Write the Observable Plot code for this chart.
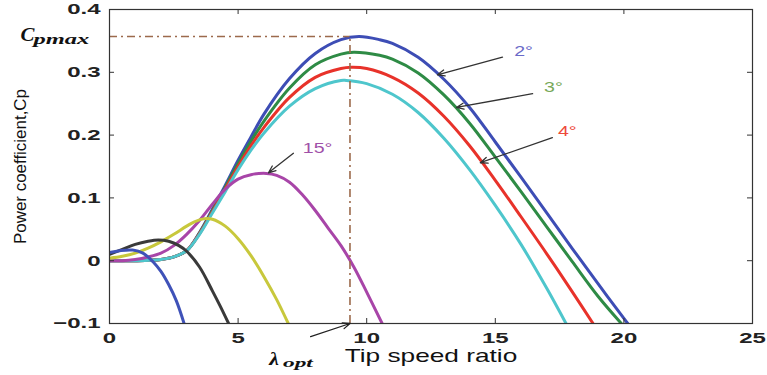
<!DOCTYPE html>
<html><head><meta charset="utf-8">
<script src="https://cdn.jsdelivr.net/npm/d3@7"></script>
<script src="https://cdn.jsdelivr.net/npm/@observablehq/plot@0.6"></script>
<style>body{margin:0;background:#fff}svg{display:block}</style>
</head><body><div id="chart"></div>
<script>
// ---- data ----
const seriesNames = ["2°", "3°", "4°", "5°", "15°", "20°", "25°", "30°"];
const seriesColors = ["#3d4db5", "#2e8b45", "#e8322a", "#4ec6cc", "#a845a8", "#c8c83c", "#3a3a3a", "#3f52b8"];

const lam2 = [0, 1, 2, 2.5, 3, 3.5, 4, 4.5, 5, 5.5, 6, 7, 8, 9, 9.7, 10.5, 11, 12, 13, 14, 15, 16, 17, 18, 19, 20, 20.15];
const cp2  = [0, 0, 0.002, 0.006, 0.016, 0.045, 0.082, 0.12, 0.16, 0.197, 0.233, 0.29, 0.33, 0.352, 0.357, 0.352, 0.346, 0.324, 0.289, 0.244, 0.189, 0.133, 0.076, 0.019, -0.037, -0.092, -0.1];

const lam3 = [0, 1, 2, 2.5, 3, 3.5, 4, 4.5, 5, 5.5, 6, 7, 8, 9, 9.5, 10.5, 11, 12, 13, 14, 15, 16, 17, 18, 19, 19.9];
const cp3  = [0, 0, 0.002, 0.006, 0.016, 0.044, 0.08, 0.117, 0.155, 0.19, 0.222, 0.275, 0.312, 0.329, 0.332, 0.327, 0.321, 0.299, 0.264, 0.219, 0.165, 0.11, 0.054, -0.002, -0.057, -0.1];

const lam4 = [0, 1, 2, 2.5, 3, 3.5, 4, 4.5, 5, 5.5, 6, 7, 8, 9, 9.4, 10, 11, 12, 13, 14, 15, 16, 17, 18, 18.8];
const cp4  = [0, 0, 0.002, 0.006, 0.016, 0.043, 0.078, 0.114, 0.15, 0.183, 0.212, 0.26, 0.292, 0.306, 0.308, 0.306, 0.292, 0.267, 0.23, 0.183, 0.128, 0.07, 0.011, -0.05, -0.1];

const lam5 = [0, 1, 2, 2.5, 3, 3.5, 4, 4.5, 5, 5.5, 6, 7, 8, 9, 9.2, 10, 11, 12, 13, 14, 15, 16, 17, 17.75];
const cp5  = [0, 0, 0.002, 0.006, 0.016, 0.042, 0.076, 0.11, 0.145, 0.176, 0.203, 0.246, 0.274, 0.287, 0.287, 0.282, 0.265, 0.236, 0.195, 0.145, 0.088, 0.026, -0.044, -0.1];

const lam15 = [0, 0.5, 1, 1.5, 2, 2.5, 3, 3.5, 4, 4.5, 5, 5.5, 6.1, 6.5, 7, 7.5, 8, 8.5, 9, 9.5, 10, 10.6];
const cp15  = [0, 0, 0.002, 0.006, 0.012, 0.024, 0.042, 0.064, 0.09, 0.114, 0.13, 0.137, 0.139, 0.136, 0.125, 0.105, 0.08, 0.052, 0.024, -0.01, -0.05, -0.1];

const lam20 = [0, 0.5, 1, 1.5, 2, 2.5, 3, 3.3, 3.7, 4, 4.5, 5, 5.5, 6, 6.5, 6.95];
const cp20  = [0.004, 0.007, 0.012, 0.02, 0.03, 0.042, 0.055, 0.062, 0.067, 0.066, 0.055, 0.035, 0.008, -0.025, -0.062, -0.1];

const lam25 = [0, 0.5, 1, 1.5, 1.9, 2.3, 2.7, 3, 3.5, 4, 4.3, 4.63];
const cp25  = [0.01, 0.018, 0.026, 0.031, 0.033, 0.031, 0.024, 0.015, -0.01, -0.048, -0.072, -0.1];

const lam30 = [0, 0.4, 0.9, 1.3, 1.7, 2, 2.3, 2.6, 2.9];
const cp30  = [0.013, 0.016, 0.017, 0.012, -0.002, -0.017, -0.038, -0.064, -0.1];

const xTicks = [0, 5, 10, 15, 20, 25];
const xTickLabels = ["0", "5", "10", "15", "20", "25"];
const yTicks = [-0.1, 0, 0.1, 0.2, 0.3, 0.4];
const yTickLabels = ["\u22120.1", "0", "0.1", "0.2", "0.3", "0.4"];

const xLabel = "Tip speed ratio";
const yLabel = "Power coefficient,Cp";

const cpMax = 0.357;
const lamOpt = 9.35;

// pitch-angle annotations
const annoText   = ["2°", "3°", "4°", "15°"];
const annoColors = ["#6a6ac8", "#78a85a", "#ee4a3a", "#a050a8"];
const annoTextX  = [16.1, 17.26, 17.8, 8.09];
const annoTextY  = [0.333, 0.276, 0.206, 0.178];
const annoTailX  = [15.28, 16.45, 17.22, 7.15];
const annoTailY  = [0.324, 0.266, 0.196, 0.171];
const annoHeadX  = [12.75, 13.49, 14.42, 6.18];
const annoHeadY  = [0.296, 0.244, 0.156, 0.14];

// lambda_opt arrow
const optTailX = 7.82, optTailY = -0.121;

// ---- build tables ----
const allLam = [lam2, lam3, lam4, lam5, lam15, lam20, lam25, lam30];
const allCp  = [cp2, cp3, cp4, cp5, cp15, cp20, cp25, cp30];
const curves = [];
allLam.forEach((L, s) => L.forEach((x, i) => curves.push({series: seriesNames[s], x, y: allCp[s][i]})));
const annos = annoText.map((t, i) => ({t, c: annoColors[i], tx: annoTextX[i], ty: annoTextY[i],
  x1: annoTailX[i], y1: annoTailY[i], x2: annoHeadX[i], y2: annoHeadY[i]}));

const refColor = "#9c6a4c";
const serif = "Liberation Serif, Times New Roman, serif";
const W = 767, H = 375, mL = 109, mR = 15, mT = 9, mB = 52;
const frameW = W - mL - mR, frameH = H - mT - mB, tickLen = 5;

const chart = Plot.plot({
  width: W, height: H,
  marginLeft: mL, marginRight: mR, marginTop: mT, marginBottom: mB,
  style: {fontFamily: "Liberation Sans, Arial, sans-serif", background: "white", color: "#222"},
  x: {domain: [0, 25]},
  y: {domain: [-0.1, 0.4]},
  color: {domain: seriesNames, range: seriesColors},
  marks: [
    Plot.line(curves, {x: "x", y: "y", z: "series", stroke: "series", strokeWidth: 3, curve: "catmull-rom", clip: true}),
    Plot.ruleY([cpMax], {x1: 0, x2: lamOpt, stroke: refColor, strokeWidth: 1.6, strokeDasharray: "8,4,2,4"}),
    Plot.ruleX([lamOpt], {y1: -0.1, y2: cpMax, stroke: refColor, strokeWidth: 1.6, strokeDasharray: "8,4,2,4"}),
    // inward ticks on all four sides
    Plot.tickX(xTicks, {x: d => d, insetTop: frameH - tickLen, stroke: "#333"}),
    Plot.tickX(xTicks, {x: d => d, insetBottom: frameH - tickLen, stroke: "#333"}),
    Plot.tickY(yTicks, {y: d => d, insetRight: frameW - tickLen, stroke: "#333"}),
    Plot.tickY(yTicks, {y: d => d, insetLeft: frameW - tickLen, stroke: "#333"}),
    Plot.frame({stroke: "#333", strokeWidth: 1.2}),
    Plot.axisX({anchor: "bottom", ticks: xTicks, tickSize: 0, tickPadding: 9, label: null, fontSize: 15, fontWeight: "bold",
      tickFormat: d => xTickLabels[xTicks.indexOf(d)]}),
    Plot.axisY({anchor: "left", ticks: yTicks, tickSize: 0, tickPadding: 9, label: null, fontSize: 15, fontWeight: "bold",
      tickFormat: d => yTickLabels[yTicks.findIndex(v => Math.abs(v - d) < 1e-9)]}),
    Plot.arrow(annos, {x1: "x1", y1: "y1", x2: "x2", y2: "y2", stroke: "#333", strokeWidth: 1.3, headLength: 9, headAngle: 45}),
    Plot.arrow([0], {x1: optTailX, y1: optTailY, x2: lamOpt, y2: -0.1, stroke: "#222", strokeWidth: 1.3, headLength: 9, headAngle: 45}),
    // text marks (order matters for stretch list)
    Plot.text([xLabel], {text: d => d, frameAnchor: "bottom", lineAnchor: "middle", dy: 33, fontSize: 17.5, fill: "#111"}),
    Plot.text([yLabel], {text: d => d, frameAnchor: "left", textAnchor: "middle", lineAnchor: "middle", rotate: -90, dx: -89, fontSize: 16, fill: "#111"}),
    Plot.text(["C"], {text: d => d, x: 0, y: cpMax, dx: -82, dy: -2, fontSize: 19, fontFamily: serif, fontStyle: "italic", fontWeight: "bold", fill: "#111"}),
    Plot.text(["pmax"], {text: d => d, x: 0, y: cpMax, dx: -76, dy: 3, textAnchor: "start", fontSize: 14, fontFamily: serif, fontStyle: "italic", fontWeight: "bold", fill: "#111"}),
    Plot.text(["\u03BB"], {text: d => d, x: lamOpt, y: -0.1, dx: -76, dy: 35, fontSize: 19, fontFamily: serif, fontStyle: "italic", fontWeight: "bold", fill: "#111"}),
    Plot.text(["opt"], {text: d => d, x: lamOpt, y: -0.1, dx: -67, dy: 39, textAnchor: "start", fontSize: 13, fontFamily: serif, fontStyle: "italic", fontWeight: "bold", fill: "#111"}),
    Plot.text(annos, {x: "tx", y: "ty", text: "t", fill: d => d.c, fontSize: 14})
  ]
});
document.getElementById("chart").appendChild(chart);

// horizontal stretch of glyphs to mimic the wide lettering of the reference
function stretch(el, s) {
  const x = el.getAttribute("x");
  let t = el.getAttribute("transform") || "";
  if (x !== null) { t += ` translate(${x},0)`; el.removeAttribute("x"); }
  el.setAttribute("transform", (t + ` scale(${s},1)`).trim());
}
const textStretch = [1.5, 1.06, 1.1, 1.75, 1.15, 1.8, 1.4];
let ti = 0;
chart.querySelectorAll(":scope > g[aria-label]").forEach(g => {
  const lab = g.getAttribute("aria-label");
  if (lab === "x-axis tick label" || lab === "y-axis tick label") {
    g.querySelectorAll("text").forEach(t => stretch(t, 1.6));
  } else if (lab === "text") {
    const s = textStretch[ti++] || 1;
    g.querySelectorAll("text").forEach(t => stretch(t, s));
  }
});
</script>
</body></html>
